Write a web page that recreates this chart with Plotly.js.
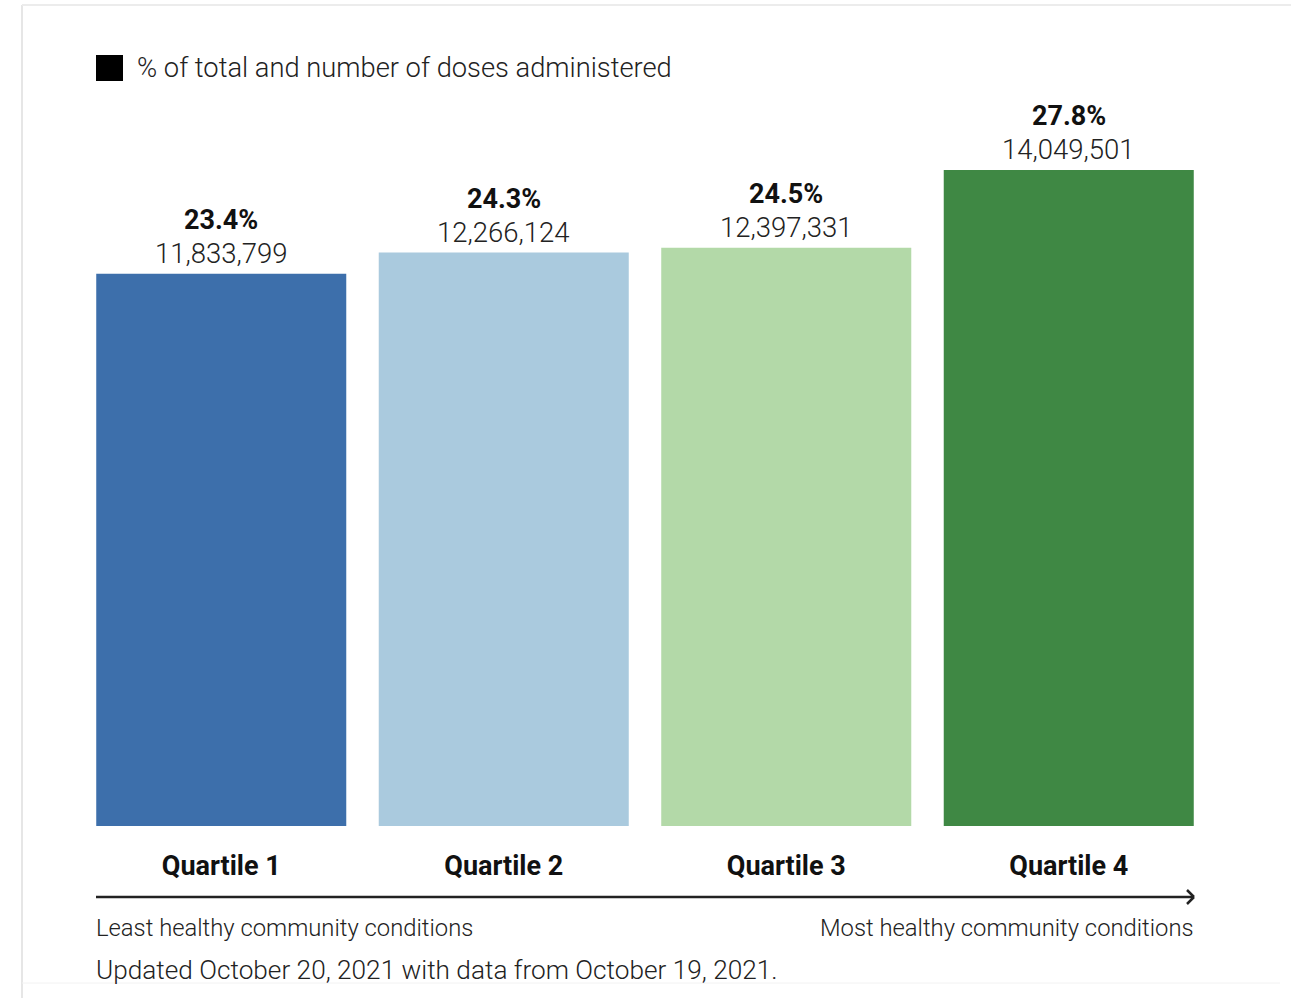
<!DOCTYPE html>
<html>
<head>
<meta charset="utf-8">
<script src="https://cdn.plot.ly/plotly-3.0.1.min.js"></script>
<style>html,body{margin:0;padding:0;background:#fff;}#chart{width:1291px;height:998px;}</style>
</head>
<body>
<div id="chart"></div>
<script>
const categories = ["Quartile 1", "Quartile 2", "Quartile 3", "Quartile 4"];
const pctValues = [23.4, 24.3, 24.5, 27.8];
const doseLabels = ["11,833,799", "12,266,124", "12,397,331", "14,049,501"];
const barColors = ["#3d6fab", "#aacade", "#b3d9a8", "#3f8844"];
const legendText = "% of total and number of doses administered";
const leftNote = "Least healthy community conditions";
const rightNote = "Most healthy community conditions";
const footNote = "Updated October 20, 2021 with data from October 19, 2021.";

const W = 1291, H = 998;
const M = {l: 80, r: 81, t: 100, b: 172};
const PW = W - M.l - M.r, PH = H - M.t - M.b;
const px = p => (p - M.l) / PW;
const py = p => (H - M.b - p) / PH;

const font = "Roboto, 'Noto Sans', sans-serif";

const annotations = [];
categories.forEach((c, i) => {
  annotations.push({x: c, y: pctValues[i], xref: 'x', yref: 'y', text: '<b>' + pctValues[i].toFixed(1) + '%</b>',
    showarrow: false, yanchor: 'middle', yshift: 54, font: {family: font, size: 27, color: '#111'}});
  annotations.push({x: c, y: pctValues[i], xref: 'x', yref: 'y', text: doseLabels[i],
    showarrow: false, yanchor: 'middle', yshift: 20, font: {family: font, size: 27.5, color: '#222', weight: 300}});
});
annotations.push({x: px(135), y: py(68), xref: 'paper', yref: 'paper', xanchor: 'left', yanchor: 'middle',
  text: legendText, showarrow: false, font: {family: font, size: 27.3, color: '#222', weight: 300}});
annotations.push({x: px(94), y: py(928), xref: 'paper', yref: 'paper', xanchor: 'left', yanchor: 'middle',
  text: leftNote, showarrow: false, font: {family: font, size: 23.8, color: '#222', weight: 300}});
annotations.push({x: px(1196), y: py(928), xref: 'paper', yref: 'paper', xanchor: 'right', yanchor: 'middle',
  text: rightNote, showarrow: false, font: {family: font, size: 23.8, color: '#222', weight: 300}});
annotations.push({x: px(94), y: py(970), xref: 'paper', yref: 'paper', xanchor: 'left', yanchor: 'middle',
  text: footNote, showarrow: false, font: {family: font, size: 26.2, color: '#222', weight: 300}});

const lineCol = '#222';
const shapes = [
  // card edges
  {type: 'line', xref: 'paper', yref: 'paper', x0: px(22), x1: px(22), y0: py(5), y1: py(998), line: {color: '#e6e6e6', width: 2}},
  {type: 'line', xref: 'paper', yref: 'paper', x0: px(22), x1: px(1291), y0: py(5), y1: py(5), line: {color: '#ececec', width: 2}},
  {type: 'line', xref: 'paper', yref: 'paper', x0: px(22), x1: px(1280), y0: py(983), y1: py(983), line: {color: '#f2f2f2', width: 1}},
  // legend square
  {type: 'rect', xref: 'paper', yref: 'paper', x0: px(96), x1: px(123), y0: py(55), y1: py(81), fillcolor: '#000', line: {width: 0}},
  // arrow line
  {type: 'line', xref: 'paper', yref: 'paper', x0: px(96), x1: px(1194), y0: py(897), y1: py(897), line: {color: lineCol, width: 2.5}},
  {type: 'line', xref: 'paper', yref: 'paper', x0: px(1187), x1: px(1194), y0: py(890), y1: py(897), line: {color: lineCol, width: 2.5}},
  {type: 'line', xref: 'paper', yref: 'paper', x0: px(1187), x1: px(1194), y0: py(904), y1: py(897), line: {color: lineCol, width: 2.5}}
];

const trace = {
  type: 'bar', x: categories, y: pctValues,
  marker: {color: barColors, line: {width: 0}},
  hoverinfo: 'skip', showlegend: false
};

const layout = {
  width: W, height: H,
  margin: M,
  paper_bgcolor: '#fff', plot_bgcolor: '#fff',
  bargap: 0.115,
  showlegend: false,
  xaxis: {type: 'category', showgrid: false, zeroline: false, showline: false, ticks: '',
    tickvals: categories, ticktext: categories.map(c => '<b>' + c + '</b>'),
    ticklabelstandoff: 21,
    tickfont: {family: font, size: 27, color: '#111'}, fixedrange: true},
  yaxis: {range: [0, PH / 23.6], visible: false, showgrid: false, zeroline: false, fixedrange: true},
  annotations: annotations,
  shapes: shapes
};

Plotly.newPlot('chart', [trace], layout, {displayModeBar: false, staticPlot: true});
</script>
</body>
</html>
